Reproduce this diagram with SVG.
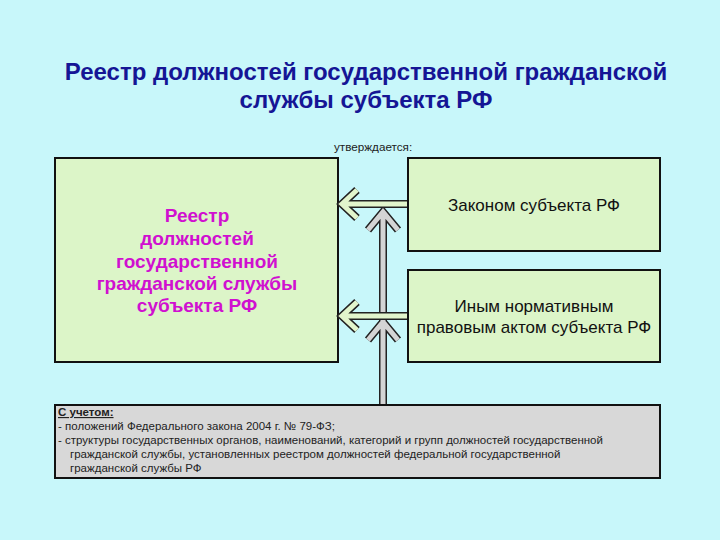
<svg xmlns="http://www.w3.org/2000/svg" width="720" height="540" viewBox="0 0 720 540">
<style>
.box{fill:#dcf5c8;stroke:#111;stroke-width:2}
.gbox{fill:#d8d8d8;stroke:#111;stroke-width:2}
.t{font-family:"Liberation Sans",Arial,sans-serif}
.o{fill:none;stroke:#222;stroke-width:8;stroke-linejoin:miter;stroke-linecap:butt}
.fg{fill:none;stroke:#e2f5cc;stroke-width:5;stroke-linejoin:miter;stroke-linecap:butt}
.fy{fill:none;stroke:#d4d4d4;stroke-width:5;stroke-linejoin:miter;stroke-linecap:butt}
</style>
<rect width="720" height="540" fill="#c8f7fa"/>
<g id="title" class="t" font-weight="bold" font-size="24" fill="#151595" text-anchor="middle">
<text x="366" y="80">Реестр должностей государственной гражданской</text>
<text x="366" y="108">службы субъекта РФ</text>
</g>
<text class="t" x="334" y="151" font-size="11.7" fill="#222">утверждается:</text>
<g id="registry">
<rect class="box" x="55" y="158" width="283" height="204"/>
<g class="t" font-weight="bold" font-size="19" fill="#d010d0" text-anchor="middle">
<text x="197" y="222">Реестр</text>
<text x="197" y="245">должностей</text>
<text x="197" y="268">государственной</text>
<text x="197" y="290">гражданской службы</text>
<text x="197" y="312">субъекта РФ</text>
</g>
</g>
<g id="law">
<rect class="box" x="408" y="158" width="252" height="93"/>
<text class="t" x="534" y="211" font-size="17" fill="#111" text-anchor="middle">Законом субъекта РФ</text>
</g>
<g id="act">
<rect class="box" x="408" y="270" width="252" height="92"/>
<text class="t" x="534" y="312" font-size="17" fill="#111" text-anchor="middle">Иным нормативным</text>
<text class="t" x="534" y="333" font-size="17" fill="#111" text-anchor="middle">правовым актом субъекта РФ</text>
</g>
<g id="considering">
<rect class="gbox" x="55" y="405" width="605" height="73"/>
<g class="t" font-size="11.5" fill="#222">
<text x="58" y="416" font-weight="bold" text-decoration="underline">С учетом:</text>
<text x="58" y="430">- положений Федерального закона 2004 г. № 79-ФЗ;</text>
<text x="58" y="444">- структуры государственных органов, наименований, категорий и групп должностей государственной</text>
<text x="70" y="458">гражданской службы, установленных реестром должностей федеральной государственной</text>
<text x="70" y="472">гражданской службы РФ</text>
</g>
</g>
<g id="connectors">
<path class="o" d="M383 404V212M368 230L383 212L398 230M368 340L383 322L398 340"/>
<path class="fy" d="M383 404V212M368 230L383 212L398 230M368 340L383 322L398 340"/>
<path class="o" d="M407 204H342M357 190L342 204L357 218M407 316H342M357 302L342 316L357 330"/>
<path class="fg" d="M407 204H342M357 190L342 204L357 218M407 316H342M357 302L342 316L357 330"/>
</g>
</svg>
